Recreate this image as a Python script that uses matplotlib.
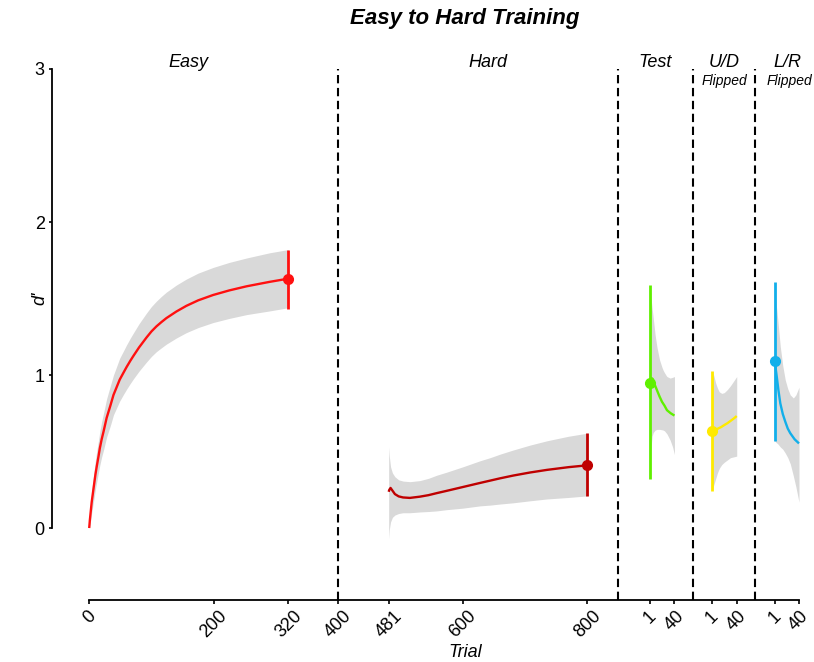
import matplotlib
matplotlib.use("Agg")
import matplotlib.pyplot as plt
import numpy as np

plt.rcParams['font.family'] = ['Liberation Sans', 'DejaVu Sans']

# ---------------- data ----------------
# Easy phase (trials 0-320)
easy_trial = [0, 1, 2, 4, 6, 8, 10, 12, 15, 17, 20, 23, 28, 34, 39, 44, 49, 55, 60, 66,
              71, 80, 92, 100, 108, 116, 124, 140, 156, 175, 199, 225, 253, 290, 320]
easy_dprime = [0, 0.05, 0.09, 0.17, 0.23, 0.29, 0.35, 0.40, 0.47, 0.52, 0.58, 0.63, 0.72, 0.80,
               0.87, 0.92, 0.97, 1.015, 1.052, 1.093, 1.125, 1.18, 1.245, 1.285, 1.318, 1.346,
               1.372, 1.415, 1.452, 1.488, 1.523, 1.553, 1.58, 1.609, 1.63]
easy_ci = [0, 0.03, 0.05, 0.07, 0.08, 0.09, 0.095, 0.10, 0.105, 0.11, 0.115, 0.12, 0.125, 0.13,
           0.13, 0.135, 0.14, 0.142, 0.145, 0.148, 0.15, 0.155, 0.16, 0.163, 0.165, 0.168, 0.17,
           0.173, 0.175, 0.178, 0.18, 0.183, 0.185, 0.19, 0.19]

# Hard phase (trials 481-800)
hard_trial = [481, 482, 484, 487, 491, 497, 504, 515, 531, 545, 558, 574, 600, 628, 644, 660,
              681, 708, 735, 770, 800]
hard_dprime = [0.237, 0.25, 0.262, 0.245, 0.222, 0.207, 0.200, 0.197, 0.205, 0.215, 0.228, 0.243,
               0.268, 0.295, 0.31, 0.325, 0.343, 0.363, 0.38, 0.398, 0.41]
hard_upper = [0.53, 0.47, 0.40, 0.36, 0.335, 0.315, 0.307, 0.303, 0.31, 0.325, 0.345, 0.365,
              0.40, 0.44, 0.46, 0.483, 0.51, 0.542, 0.57, 0.60, 0.62]
hard_lower = [-0.07, -0.01, 0.04, 0.07, 0.085, 0.095, 0.10, 0.10, 0.105, 0.108, 0.112, 0.12,
              0.13, 0.145, 0.15, 0.157, 0.165, 0.178, 0.19, 0.20, 0.21]

# Test phase (trials 1-40)
test_trial = [1, 3, 5, 8, 12, 16, 20, 24, 28, 34, 40]
test_dprime = [0.95, 0.98, 0.975, 0.94, 0.90, 0.86, 0.825, 0.80, 0.77, 0.75, 0.735]
test_band_trial = [1, 2, 4, 6, 9, 12, 16, 20, 22, 24, 27, 28, 33, 37, 40]
test_upper = [1.58, 1.52, 1.44, 1.37, 1.26, 1.18, 1.10, 1.05, 1.03, 1.015, 0.995, 0.99, 0.98, 0.985, 0.99]
test_lower = [0.33, 0.50, 0.60, 0.625, 0.64, 0.645, 0.645, 0.642, 0.64, 0.635, 0.62, 0.615, 0.575, 0.53, 0.48]

# U/D flipped (trials 1-40)
ud_trial = [1, 5, 9, 15, 20, 25, 30, 35, 40]
ud_dprime = [0.632, 0.64, 0.648, 0.66, 0.673, 0.685, 0.70, 0.715, 0.732]
ud_band_trial = [1, 3, 6, 9, 12, 16, 20, 25, 30, 35, 40]
ud_upper = [1.02, 1.0, 0.95, 0.915, 0.89, 0.88, 0.885, 0.905, 0.93, 0.96, 0.99]
ud_lower = [0.25, 0.28, 0.32, 0.36, 0.39, 0.415, 0.43, 0.445, 0.46, 0.465, 0.47]

# L/R flipped (trials 1-40)
lr_trial = [1, 3, 5, 7, 10, 14, 18, 22, 26, 33, 40]
lr_dprime = [1.094, 1.03, 0.967, 0.90, 0.815, 0.745, 0.695, 0.65, 0.62, 0.58, 0.553]
lr_band_trial = [1, 3, 6, 10, 14, 18, 22, 26, 31, 35, 37, 40]
lr_upper = [1.60, 1.48, 1.36, 1.185, 1.06, 0.967, 0.91, 0.87, 0.85, 0.87, 0.89, 0.92]
lr_lower = [0.57, 0.56, 0.55, 0.53, 0.515, 0.49, 0.46, 0.42, 0.34, 0.27, 0.23, 0.17]

# end-point summaries (trial, d', low, high)
easy_end = (320, 1.63, 1.43, 1.82)
hard_end = (800, 0.41, 0.21, 0.62)
test_start = (1, 0.95, 0.32, 1.59)
ud_start = (1, 0.632, 0.242, 1.026)
lr_start = (1, 1.094, 0.57, 1.61)

tick_values = [0, 200, 320, 400, 481, 600, 800]
tick_short = [1, 40]
section_names = ["Easy", "Hard", "Test", "U/D", "L/R"]
boundaries = [400, 850, 970, 1070]

# layout offsets for the short phases
off_test, off_ud, off_lr = 900, 1000, 1100

col_easy = '#FF1010'
col_hard = '#BF0000'
col_test = '#5FF000'
col_ud = '#FFEA00'
col_lr = '#12AFEA'
band = '#D9D9D9'

# ---------------- figure ----------------
fig = plt.figure(figsize=(8.14, 6.62), dpi=100)
ax = fig.add_axes([0.0637, 0.0937, 0.9255, 0.8021])
ax.set_xlim(-60, 1150)
ax.set_ylim(-0.47, 3.0)


def draw(xs, ys, bx, lo, hi, col, end, off):
    xs = np.asarray(xs) + off
    bx = np.asarray(bx) + off
    ax.fill_between(bx, lo, hi, color=band, lw=0, zorder=1)
    ax.plot(xs, ys, color=col, lw=1.7, zorder=3, solid_capstyle='butt', solid_joinstyle='round')
    t, m, l, h = end
    ax.plot([t + off, t + off], [l, h], color=col, lw=2.0, zorder=4, solid_capstyle='butt')
    ax.plot([t + off], [m], 'o', color=col, ms=7, zorder=5)


e_lo = np.array(easy_dprime) - np.array(easy_ci)
e_hi = np.array(easy_dprime) + np.array(easy_ci)
draw(easy_trial, easy_dprime, easy_trial, e_lo, e_hi, col_easy, easy_end, 0)
draw(hard_trial, hard_dprime, hard_trial, hard_lower, hard_upper, col_hard, hard_end, 0)
draw(test_trial, test_dprime, test_band_trial, test_lower, test_upper, col_test, test_start, off_test)
draw(ud_trial, ud_dprime, ud_band_trial, ud_lower, ud_upper, col_ud, ud_start, off_ud)
draw(lr_trial, lr_dprime, lr_band_trial, lr_lower, lr_upper, col_lr, lr_start, off_lr)

for b in boundaries:
    ax.plot([b, b], [-0.47, 3.0], color='black', lw=1.5, dashes=(4, 2.2), zorder=2, clip_on=False)

# axes styling
for s in ['top', 'right']:
    ax.spines[s].set_visible(False)
ax.spines['left'].set_bounds(0, 3)
ax.spines['bottom'].set_bounds(0, 1140)
ax.spines['left'].set_linewidth(1.3)
ax.spines['bottom'].set_linewidth(1.3)

ax.set_yticks([0, 1, 2, 3])
ax.set_yticklabels(['0', '1', '2', '3'])
xt = list(tick_values) + [t + off_test for t in tick_short] + [t + off_ud for t in tick_short] \
    + [t + off_lr for t in tick_short]
xl = [str(v) for v in tick_values] + [str(v) for v in tick_short] * 3
ax.set_xticks(xt)
ax.set_xticklabels(xl, rotation=45)
ax.tick_params(axis='x', length=2.6, width=1.2, pad=3, labelsize=13, direction='out')
ax.tick_params(axis='y', length=2.2, width=1.2, pad=3, labelsize=13, direction='out')

# section labels
sec_x = [160, 640, 909, 1020, 1122]
for name, x in zip(section_names, sec_x):
    ax.text(x, 3.015, name, ha='center', va='baseline', fontsize=13, style='italic', clip_on=False)
ax.text(1020, 2.895, "Flipped", ha='center', va='baseline', fontsize=10, style='italic', clip_on=False)
ax.text(1125, 2.895, "Flipped", ha='center', va='baseline', fontsize=10, style='italic', clip_on=False)

fig.text(465 / 814, 1 - 24 / 662, "Easy to Hard Training", ha='center', va='baseline',
         fontsize=16, fontweight='bold', style='italic')
fig.text(465 / 814, 1 - 657 / 662, "Trial", ha='center', va='baseline', fontsize=13, style='italic')
fig.text(40 / 814, 1 - 298 / 662, "d'", ha='center', va='center', rotation=90, fontsize=13,
         style='italic')

fig.savefig("out.png", dpi=100)
